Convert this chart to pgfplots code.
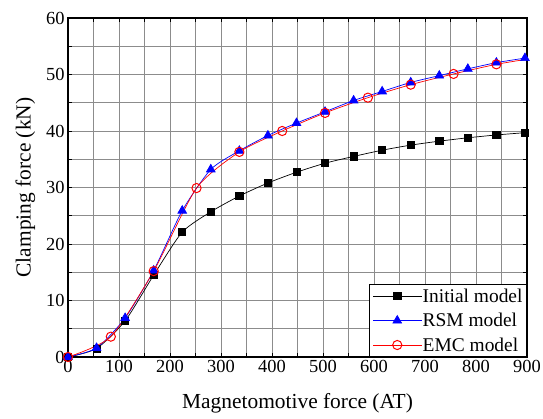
\documentclass[border=0pt]{standalone}
\usepackage{fontspec}
\setmainfont{Liberation Serif}
\usepackage{pgfplots}
\pgfplotsset{compat=1.18}
\begin{document}
\begin{tikzpicture}
\begin{axis}[
  scale only axis,
  width=459bp, height=339bp,
  xmin=0, xmax=900, ymin=0, ymax=60,
  xtick={0,100,...,900}, ytick={0,10,...,60},
  minor x tick num=1, minor y tick num=1,
  grid=both,
  major grid style={draw=black!45, line width=0.8pt},
  minor grid style={draw=black!45, line width=0.8pt},
  axis line style={line width=1.1pt},
  tick style={draw=black, line width=0.8pt},
  major tick length=4bp, minor tick length=4bp,
  tick align=inside,
  /pgf/number format/assume math mode=true,
  tick label style={font=\fontsize{18.5}{22}\selectfont},
  label style={font=\fontsize{21.5}{25}\selectfont},
  xlabel={Magnetomotive force (AT)},
  ylabel={Clamping force (kN)},
  xlabel style={yshift=-14bp},
  ylabel style={yshift=4bp},
  legend cell align=left,
  legend style={at={(1,0)}, anchor=south east, draw=black, line width=1pt,
    font=\fontsize{19.5}{22}\selectfont, inner xsep=3pt, inner ysep=3pt, row sep=7.5bp,
    nodes={inner sep=1pt}},
  legend image code/.code={
    \draw[#1, mark indices={2}] plot coordinates {(0cm,0cm) (0.85cm,0cm) (1.7cm,0cm)};
  },
]
\addplot[black, line width=0.7pt, smooth, tension=0.4, mark=square*, mark size=3.6bp, mark options={solid, fill=black}] coordinates {
(0,0) (56,1.5) (112,6.4) (168,14.5) (224,22.1) (280,25.7) (336,28.5) (392,30.8) (448,32.7) (504,34.3) (560,35.5) (616,36.6) (672,37.5) (728,38.2) (784,38.8) (840,39.3) (896,39.7)
};
\addlegendentry{Initial model}
\addplot[blue, line width=0.7pt, smooth, tension=0.4, mark=triangle*, mark size=5bp, mark options={solid, fill=blue}] coordinates {
(0,0) (56,1.6) (112,6.9) (168,15.3) (224,25.9) (280,33.2) (336,36.5) (392,39.2) (448,41.4) (504,43.4) (560,45.4) (616,47.0) (672,48.6) (728,49.8) (784,51.0) (840,52.1) (896,52.9)
};
\addlegendentry{RSM model}
\addplot[red, line width=0.7pt, smooth, tension=0.4, mark=o, mark size=4.6bp, mark options={solid, fill=white, line width=1pt}, mark indices={1,...,11}] coordinates {
(0,0) (84,3.6) (168,15.2) (252,29.9) (336,36.3) (420,40.0) (504,43.2) (588,45.9) (672,48.2) (756,50.1) (840,51.8) (900,52.7)
};
\addlegendentry{EMC model}
\end{axis}
\pgfresetboundingbox
\path ([xshift=-68bp,yshift=-62bp]current axis.south west) rectangle ([xshift=16bp,yshift=18bp]current axis.north east);
\end{tikzpicture}
\end{document}
